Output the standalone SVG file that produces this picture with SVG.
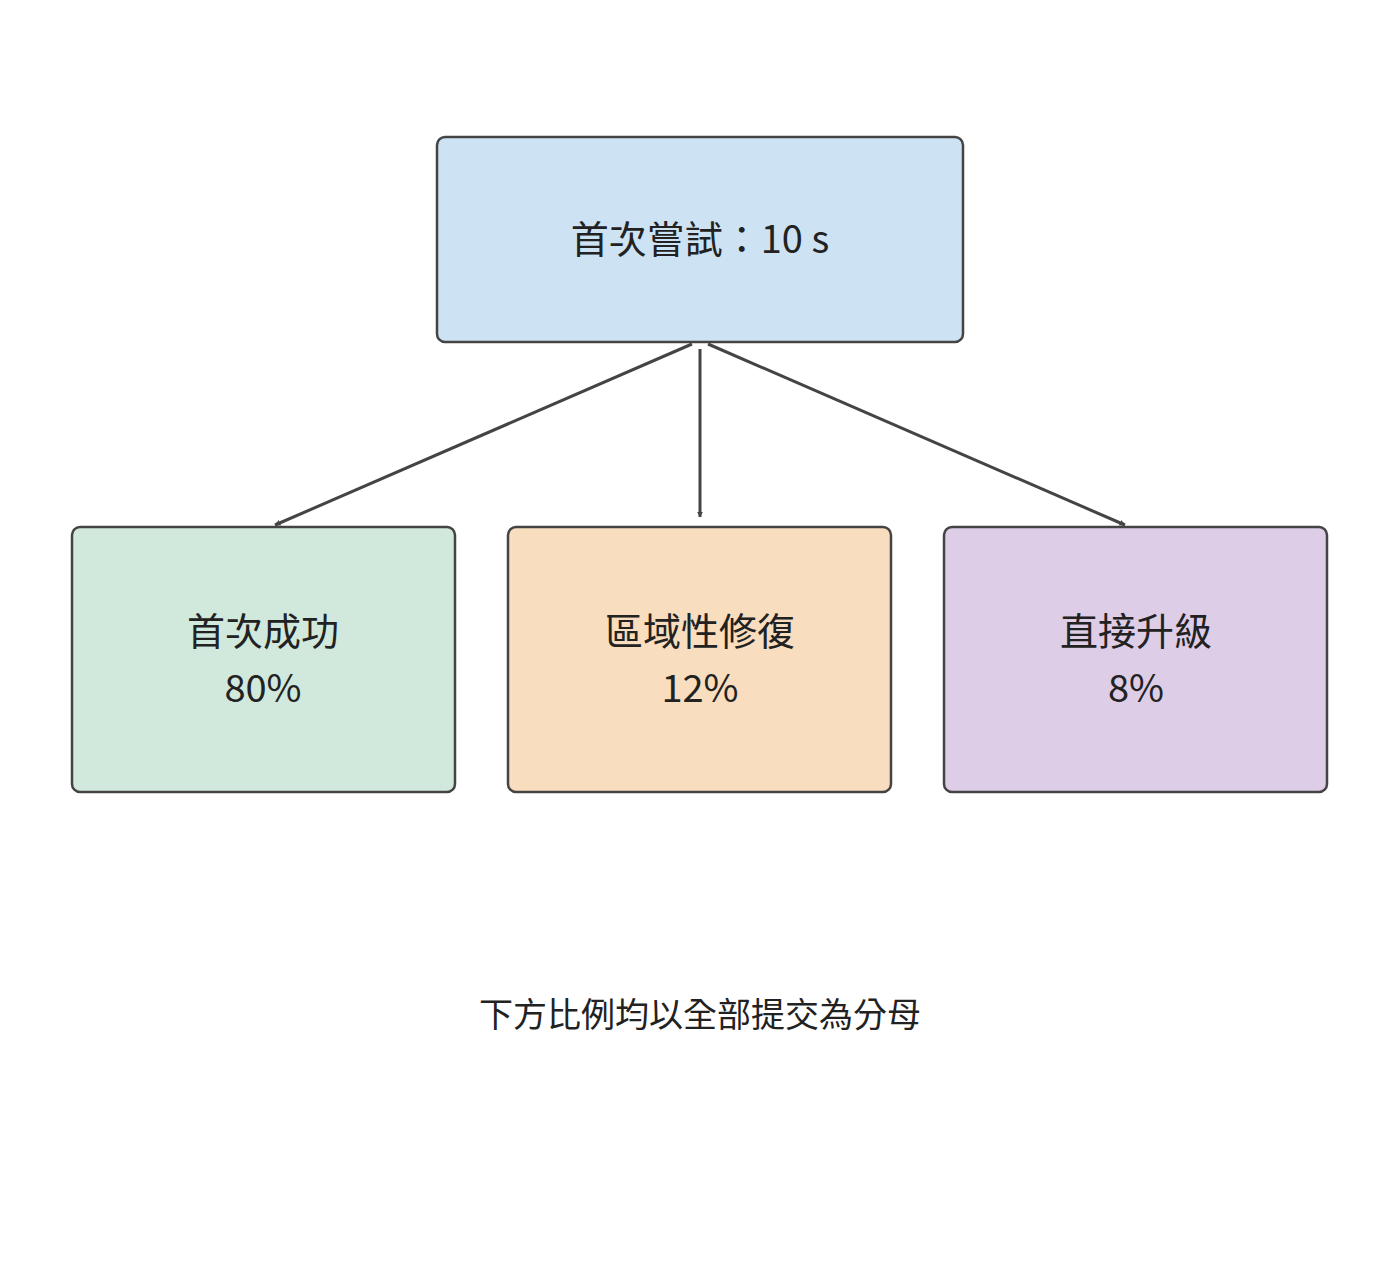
<svg xmlns="http://www.w3.org/2000/svg" width="1400" height="1272" viewBox="0 0 1400 1272">
<style>
.n{stroke:#444;stroke-width:2.5}
.t{font-family:"Noto Sans CJK TC","Noto Sans",sans-serif;font-size:38px;fill:#222;text-anchor:middle}
.e{stroke:#444;stroke-width:3;fill:none;marker-end:url(#a)}
</style>
<defs><marker id="a" viewBox="0 0 10 10" refX="9" refY="5" markerWidth="6" markerHeight="6" markerUnits="userSpaceOnUse" orient="auto"><path d="M0,0L10,5L0,10z" fill="#444"/></marker></defs>
<rect width="1400" height="1272" fill="#fff"/>
<g id="top"><rect class="n" x="437" y="137" width="526" height="205" rx="8" fill="#cde3f3"/><text class="t" x="700" y="253">首次嘗試：10 s</text></g>
<g id="a1"><rect class="n" x="72" y="527" width="383" height="265" rx="8" fill="#d1e8dc"/><text class="t" x="263" y="645">首次成功</text><text class="t" x="263" y="702">80%</text></g>
<g id="a2"><rect class="n" x="508" y="527" width="383" height="265" rx="8" fill="#f8ddbe"/><text class="t" x="700" y="645">區域性修復</text><text class="t" x="700" y="702">12%</text></g>
<g id="a3"><rect class="n" x="944" y="527" width="383" height="265" rx="8" fill="#ddcde7"/><text class="t" x="1136" y="645">直接升級</text><text class="t" x="1136" y="702">8%</text></g>
<g id="edges">
<path class="e" d="M692,344L275,525"/>
<path class="e" d="M700,349L700,517"/>
<path class="e" d="M708,344L1125,525"/>
</g>
<text class="t" x="700" y="1027" style="font-size:34px">下方比例均以全部提交為分母</text>
</svg>
